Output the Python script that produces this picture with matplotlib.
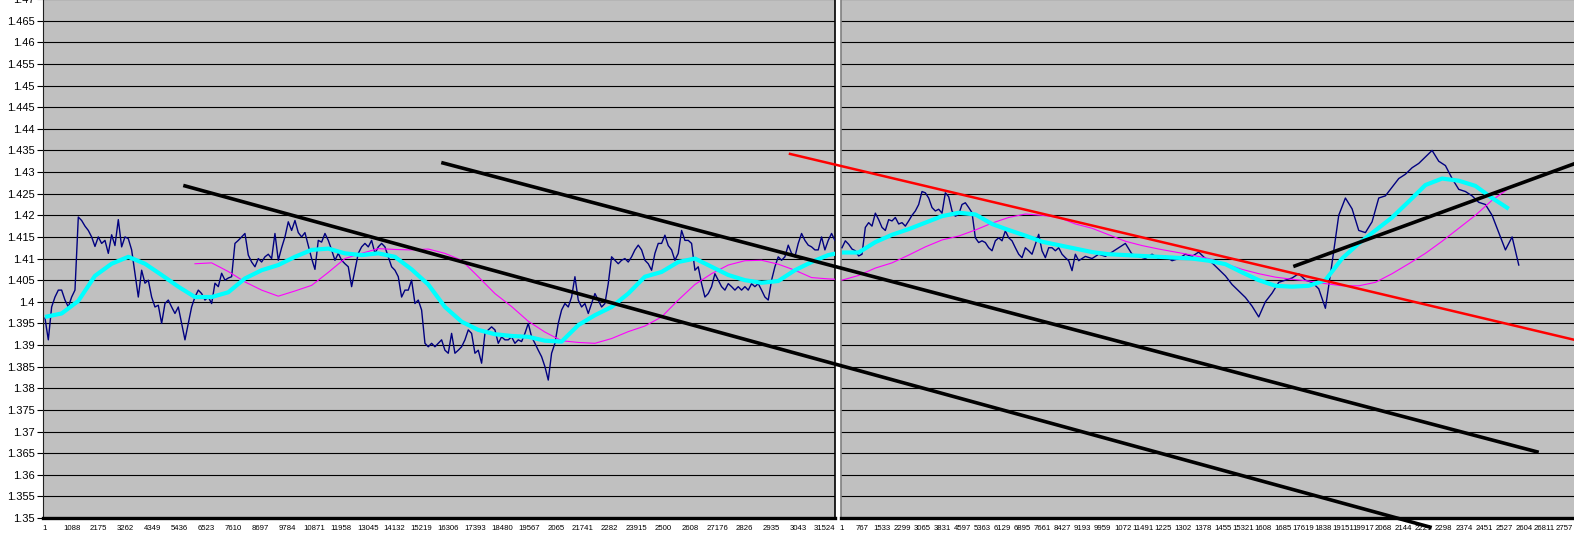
import numpy as np
import matplotlib
matplotlib.use("Agg")
import matplotlib.pyplot as plt

plt.rcParams['font.family'] = ['Liberation Sans', 'DejaVu Sans']

# ---- data ----
y_ticks = [1.35, 1.355, 1.36, 1.365, 1.37, 1.375, 1.38, 1.385, 1.39, 1.395, 1.40, 1.405,
           1.41, 1.415, 1.42, 1.425, 1.43, 1.435, 1.44, 1.445, 1.45, 1.455, 1.46, 1.465, 1.47]
y_labels = ['1.35', '1.355', '1.36', '1.365', '1.37', '1.375', '1.38', '1.385', '1.39', '1.395',
            '1.4', '1.405', '1.41', '1.415', '1.42', '1.425', '1.43', '1.435', '1.44', '1.445',
            '1.45', '1.455', '1.46', '1.465', '1.47']

left_labels = ['1', '1088', '2175', '3262', '4349', '5436', '6523', '7610', '8697', '9784',
               '10871', '11958', '13045', '14132', '15219', '16306', '17393', '18480', '19567',
               '2065', '21741', '2282', '23915', '2500', '2608', '27176', '2826', '2935', '3043',
               '31524']
right_labels = ['1', '767', '1533', '2299', '3065', '3831', '4597', '5363', '6129', '6895',
                '7661', '8427', '9193', '9959', '1072', '11491', '1225', '1302', '1378', '1455',
                '15321', '1608', '1685', '17619', '1838', '19151', '19917', '2068', '2144',
                '2221', '2298', '2374', '2451', '2527', '2604', '26811', '2757']

# left chart, price (sampled every ~135 points)
price_left = [
    1.3962, 1.3912, 1.3988, 1.4011, 1.4027, 1.4027, 1.4004, 1.3988, 1.4011, 1.4027,
    1.4196, 1.4188, 1.4175, 1.4165, 1.4150, 1.4128, 1.4150, 1.4135, 1.4142, 1.4112,
    1.4155, 1.4130, 1.4190, 1.4127, 1.4150, 1.4146, 1.4120, 1.4066, 1.4011, 1.4073,
    1.4043, 1.4050, 1.4011, 1.3988, 1.3992, 1.3950, 1.3996, 1.4004, 1.3988, 1.3973,
    1.3988, 1.3950, 1.3912, 1.3950, 1.3988, 1.4011, 1.4027, 1.4019, 1.4004, 1.4011,
    1.3996, 1.4043, 1.4035, 1.4066, 1.4050, 1.4055, 1.4058, 1.4135, 1.4142, 1.4150,
    1.4158, 1.4108, 1.4092, 1.4081, 1.4100, 1.4092, 1.4104, 1.4110, 1.4100, 1.4158,
    1.4096, 1.4125, 1.4150, 1.4185, 1.4165, 1.4188, 1.4160, 1.4150, 1.4160, 1.4130,
    1.4100, 1.4075, 1.4142, 1.4138, 1.4158, 1.4142, 1.4120, 1.4096, 1.4112, 1.4096,
    1.4088, 1.4081, 1.4035, 1.4073, 1.4112, 1.4127, 1.4135, 1.4127, 1.4142, 1.4112,
    1.4127, 1.4135, 1.4127, 1.4104, 1.4081, 1.4073, 1.4058, 1.4011, 1.4027, 1.4027,
    1.4050, 1.3996, 1.4004, 1.3981, 1.3904, 1.3896, 1.3904, 1.3896, 1.3904, 1.3912,
    1.3888, 1.3881, 1.3927, 1.3881, 1.3888, 1.3896, 1.3912, 1.3935, 1.3927, 1.3881,
    1.3888, 1.3858, 1.3927, 1.3935, 1.3942, 1.3935, 1.3904, 1.3919, 1.3912, 1.3912,
    1.3919, 1.3904, 1.3912, 1.3908, 1.3927, 1.3950, 1.3919, 1.3904, 1.3888, 1.3873,
    1.3850, 1.3819, 1.3881, 1.3904, 1.3950, 1.3981, 1.3996, 1.3988, 1.4011, 1.4058,
    1.4004, 1.3988, 1.3996, 1.3973, 1.3996, 1.4019, 1.4004, 1.3988, 1.3996, 1.4042,
    1.4104, 1.4096, 1.4088, 1.4096, 1.4100, 1.4092, 1.4104, 1.4120, 1.4131, 1.4120,
    1.4096, 1.4088, 1.4073, 1.4112, 1.4135, 1.4135, 1.4154, 1.4130, 1.4120, 1.4096,
    1.4112, 1.4165, 1.4142, 1.4142, 1.4135, 1.4073, 1.4081, 1.4042, 1.4011, 1.4019,
    1.4035, 1.4065, 1.4050, 1.4035, 1.4027, 1.4042, 1.4035, 1.4027, 1.4035, 1.4027,
    1.4035, 1.4027, 1.4042, 1.4035, 1.4042, 1.4027, 1.4011, 1.4004, 1.4050, 1.4081,
    1.4104, 1.4096, 1.4104, 1.4131, 1.4112, 1.4104, 1.4135, 1.4158, 1.4142, 1.4131,
    1.4127, 1.4120, 1.4120, 1.4150, 1.4120, 1.4142, 1.4158, 1.4142]

# left chart, fast average (cyan) and slow average (magenta), every ~673 points
fast_left = [
    1.3965, 1.3973, 1.4002, 1.4060, 1.4088, 1.4104, 1.4088, 1.4062, 1.4035, 1.4011,
    1.4011, 1.4022, 1.4054, 1.4073, 1.4085, 1.4104, 1.4120, 1.4123, 1.4112, 1.4108,
    1.4112, 1.4104, 1.4075, 1.4040, 1.3988, 1.3954, 1.3935, 1.3925, 1.3921, 1.3919,
    1.3910, 1.3908, 1.3946, 1.3969, 1.3988, 1.4019, 1.4058, 1.4069, 1.4092, 1.4100,
    1.4081, 1.4062, 1.4050, 1.4044, 1.4048, 1.4073, 1.4092, 1.4108, 1.4116]
slow_left_start = 9
slow_left = [
    1.4088, 1.4090, 1.4070,
    1.4046, 1.4027, 1.4013, 1.4025, 1.4038, 1.4068, 1.4100, 1.4112, 1.4123, 1.4121,
    1.4120, 1.4122,
    1.4112, 1.4096, 1.4058, 1.4019, 1.3989, 1.3955, 1.3930, 1.3910, 1.3906, 1.3904,
    1.3915, 1.3931,
    1.3944, 1.3965, 1.4004, 1.4040, 1.4065, 1.4085, 1.4095, 1.4096, 1.4087, 1.4073,
    1.4056, 1.4053, 1.4051]

# right chart, price: first part every ~127 points, second part every ~255 points
price_right_a = [
    1.4125, 1.4141, 1.4133, 1.4122, 1.4118, 1.4106, 1.4110, 1.4172, 1.4183, 1.4175,
    1.4205, 1.4190, 1.4172, 1.4165, 1.4190, 1.4187, 1.4195, 1.4180, 1.4183, 1.4175,
    1.4187, 1.4200, 1.4210, 1.4225, 1.4255, 1.4252, 1.4240, 1.4218, 1.4210, 1.4214,
    1.4205, 1.4252, 1.4243, 1.4210, 1.4198, 1.4202, 1.4225, 1.4229, 1.4218, 1.4206,
    1.4148, 1.4137, 1.4141, 1.4137, 1.4125, 1.4118, 1.4141, 1.4148, 1.4141, 1.4164,
    1.4148, 1.4141, 1.4125, 1.4110, 1.4102, 1.4125, 1.4118, 1.4110, 1.4133, 1.4156,
    1.4118, 1.4102, 1.4125, 1.4125, 1.4118, 1.4125, 1.4110, 1.4102, 1.4095, 1.4072,
    1.4110]
price_right_b = [
    1.4095, 1.4105, 1.4100, 1.4110, 1.4105, 1.4115, 1.4125, 1.4135, 1.4110, 1.4105,
    1.4100, 1.4110, 1.4100, 1.4105, 1.4095, 1.4100, 1.4110, 1.4105, 1.4115, 1.4100,
    1.4090, 1.4075, 1.4060, 1.4040, 1.4025, 1.4010, 1.3990, 1.3965, 1.4000, 1.4020,
    1.4045, 1.4050, 1.4055, 1.4065, 1.4050, 1.4045, 1.4030, 1.3985, 1.4090, 1.4200,
    1.4240, 1.4215, 1.4165, 1.4160, 1.4185, 1.4240, 1.4245, 1.4265, 1.4285, 1.4295,
    1.4310, 1.4320, 1.4335, 1.4350, 1.4325, 1.4315, 1.4285, 1.4260, 1.4255, 1.4245,
    1.4230, 1.4225, 1.4200, 1.4160, 1.4120, 1.4150, 1.4085]

fast_right = [
    1.4114, 1.4114, 1.4138, 1.4155, 1.4168, 1.4183, 1.4198, 1.4206, 1.4202, 1.4180,
    1.4166, 1.4153, 1.4139, 1.4131, 1.4123, 1.4115, 1.4110, 1.4108, 1.4106, 1.4104,
    1.4102, 1.4100, 1.4095, 1.4087, 1.4068, 1.4050, 1.4037, 1.4035, 1.4037, 1.4050,
    1.4100, 1.4135, 1.4165, 1.4195, 1.4232, 1.4270, 1.4285, 1.4280, 1.4268, 1.4240,
    1.4215]
slow_right = [
    1.4050, 1.4061, 1.4078, 1.4090, 1.4108, 1.4127, 1.4143, 1.4152, 1.4166, 1.4182,
    1.4195, 1.4203, 1.4200, 1.4195, 1.4180, 1.4170, 1.4155, 1.4140, 1.4130, 1.4122,
    1.4115, 1.4108, 1.4100, 1.4088, 1.4075, 1.4065, 1.4057, 1.4052, 1.4048, 1.4042,
    1.4037, 1.4037, 1.4045, 1.4065, 1.4088, 1.4112, 1.4140, 1.4170, 1.4200, 1.4235,
    1.4262]

# hand-drawn trend lines, in left-chart point numbers: (x0, y0, x1, y1)
trend_black = [(5659, 1.4268, 55973, 1.3479),
               (16086, 1.4321, 60298, 1.3653),
               (50518, 1.4083, 62034, 1.4324)]
trend_red = [(30109, 1.4342, 62034, 1.3909)]

# ---- figure ----
W, H = 1574, 536
fig = plt.figure(figsize=(W / 100, H / 100), dpi=100)
bg = '#c0c0c0'
ybot = (H - 518) / H
yh = 518.9 / H

axL = fig.add_axes([43 / W, ybot, (835 - 43) / W, yh])
axR = fig.add_axes([841 / W, ybot, (W - 841) / W, yh])

for ax in (axL, axR):
    ax.set_facecolor(bg)
    ax.set_ylim(1.35, 1.47)
    for v in y_ticks:
        ax.axhline(v, color='black', lw=0.8, zorder=1)
    ax.spines['top'].set_visible(False)
    ax.spines['bottom'].set_linewidth(2.4)
    ax.spines['bottom'].set_color('black')
    ax.tick_params(axis='x', length=0, pad=5, labelsize=5.6)

axL.set_xlim(-80, 31928)
axR.set_xlim(-38, 27951)

axL.set_yticks(y_ticks)
axL.set_yticklabels(y_labels, fontsize=8)
axL.tick_params(axis='y', length=4, width=0.8, pad=2)
axL.spines['left'].set_color('#202020')
axL.spines['left'].set_linewidth(0.8)
axL.spines['right'].set_color('black')
axL.spines['right'].set_linewidth(1.2)
axL.set_xticks([1 + 1087 * k for k in range(len(left_labels))])
axL.set_xticklabels(left_labels)

axR.set_yticks([])
axR.spines['left'].set_color('#808080')
axR.spines['left'].set_linewidth(1.2)
axR.spines['right'].set_visible(False)
axR.set_xticks([1 + 766 * k for k in range(len(right_labels))])
axR.set_xticklabels(right_labels)

# series
xl = np.arange(len(price_left)) * 134.7
axL.plot(xl, price_left, color='#000080', lw=1.0, zorder=3)
axL.plot(np.arange(len(fast_left)) * 673.5, fast_left, color='#00ffff', lw=3.0, zorder=4,
         solid_capstyle='butt')
axL.plot((np.arange(len(slow_left)) + slow_left_start) * 673.5, slow_left,
         color='#ff00ff', lw=0.8, zorder=3.5)

xa = np.arange(len(price_right_a)) * 127.3
xb = xa[-1] + 127.3 + np.arange(len(price_right_b)) * 254.6
axR.plot(np.concatenate([xa, xb]), price_right_a + price_right_b,
         color='#000080', lw=1.0, zorder=3)
axR.plot(np.arange(len(fast_right)) * 636.5, fast_right, color='#00ffff', lw=3.0, zorder=4,
         solid_capstyle='butt')
axR.plot(np.arange(len(slow_right)) * 636.5, slow_right, color='#ff00ff', lw=0.8, zorder=3.5)

# overlay for the trend lines that cross both charts
axT = fig.add_axes(axL.get_position(), zorder=10)
axT.set_xlim(axL.get_xlim())
axT.set_ylim(axL.get_ylim())
axT.axis('off')
for x0, y0, x1, y1 in trend_black:
    axT.plot([x0, x1], [y0, y1], color='black', lw=2.6, clip_on=False)
for x0, y0, x1, y1 in trend_red:
    axT.plot([x0, x1], [y0, y1], color='#ff0000', lw=1.8, clip_on=False)

fig.savefig('out.png', dpi=100, facecolor='white')
